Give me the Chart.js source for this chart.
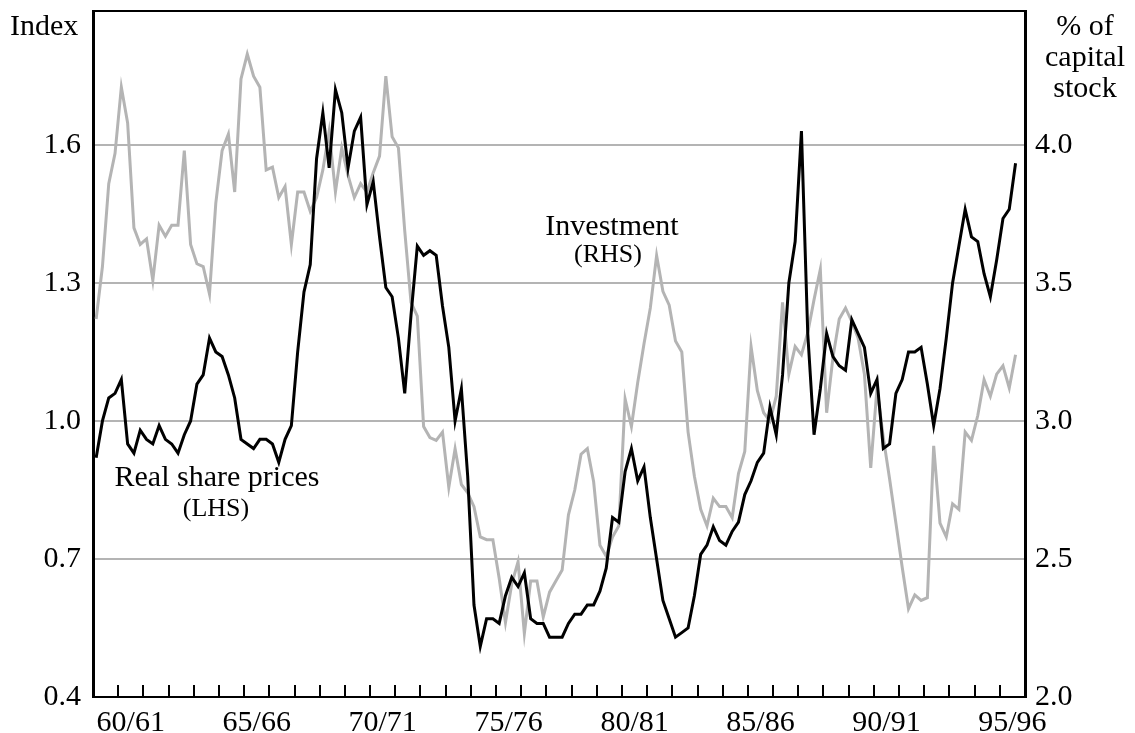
<!DOCTYPE html>
<html>
<head>
<meta charset="utf-8">
<script src="https://cdn.jsdelivr.net/npm/chart.js@4.4.0/dist/chart.umd.min.js"></script>
<style>
  html, body { margin: 0; padding: 0; background: #fff; }
  #wrap { width: 1135px; height: 733px; }
</style>
</head>
<body>
<div id="wrap"><canvas id="chart" width="1135" height="733"></canvas></div>
<script>
// quarterly series, Sep qtr 1959 .. Mar qtr 1996
const firstQuarter = 1959.625;

// real share prices, index (LHS)
const sharePrices = [
  0.92, 1.00, 1.05, 1.06, 1.09, 0.95, 0.93, 0.98, 0.96, 0.95,
  0.99, 0.96, 0.95, 0.93, 0.97, 1.00, 1.08, 1.10, 1.18, 1.15,
  1.14, 1.10, 1.05, 0.96, 0.95, 0.94, 0.96, 0.96, 0.95, 0.91,
  0.96, 0.99, 1.15, 1.28, 1.34, 1.57, 1.67, 1.55, 1.72, 1.67,
  1.55, 1.63, 1.66, 1.47, 1.52, 1.40, 1.29, 1.27, 1.18, 1.06,
  1.23, 1.38, 1.36, 1.37, 1.36, 1.25, 1.16, 1.00, 1.07, 0.88,
  0.60, 0.51, 0.57, 0.57, 0.56, 0.62, 0.66, 0.64, 0.67, 0.57,
  0.56, 0.56, 0.53, 0.53, 0.53, 0.56, 0.58, 0.58, 0.60, 0.60,
  0.63, 0.68, 0.79, 0.78, 0.89, 0.94, 0.87, 0.90, 0.79, 0.70,
  0.61, 0.57, 0.53, 0.54, 0.55, 0.62, 0.71, 0.73, 0.77, 0.74,
  0.73, 0.76, 0.78, 0.84, 0.87, 0.91, 0.93, 1.03, 0.97, 1.10,
  1.30, 1.39, 1.63, 1.19, 0.97, 1.07, 1.19, 1.14, 1.12, 1.11,
  1.22, 1.19, 1.16, 1.06, 1.09, 0.94, 0.95, 1.06, 1.09, 1.15,
  1.15, 1.16, 1.08, 0.99, 1.07, 1.18, 1.30, 1.38, 1.46, 1.40,
  1.39, 1.32, 1.27, 1.35, 1.44, 1.46, 1.56
];

// investment, % of capital stock (RHS)
const investment = [
  3.37, 3.56, 3.86, 3.97, 4.21, 4.08, 3.70, 3.64, 3.66, 3.51,
  3.71, 3.67, 3.71, 3.71, 3.98, 3.64, 3.57, 3.56, 3.46, 3.79,
  3.98, 4.04, 3.83, 4.24, 4.33, 4.25, 4.21, 3.91, 3.92, 3.81,
  3.85, 3.64, 3.83, 3.83, 3.76, 3.81, 3.91, 4.05, 3.83, 3.99,
  3.89, 3.81, 3.86, 3.83, 3.90, 3.96, 4.25, 4.03, 3.99, 3.69,
  3.43, 3.38, 2.98, 2.94, 2.93, 2.96, 2.76, 2.90, 2.77, 2.74,
  2.69, 2.58, 2.57, 2.57, 2.43, 2.27, 2.41, 2.49, 2.23, 2.42,
  2.42, 2.29, 2.38, 2.42, 2.46, 2.66, 2.75, 2.88, 2.90, 2.78,
  2.55, 2.51, 2.58, 2.62, 3.08, 2.98, 3.14, 3.28, 3.41, 3.60,
  3.47, 3.42, 3.29, 3.25, 2.96, 2.80, 2.68, 2.62, 2.72, 2.69,
  2.69, 2.65, 2.81, 2.89, 3.27, 3.11, 3.03, 3.00, 3.09, 3.43,
  3.17, 3.27, 3.24, 3.32, 3.44, 3.55, 3.03, 3.23, 3.37, 3.41,
  3.36, 3.30, 3.17, 2.83, 3.12, 2.94, 2.79, 2.63, 2.47, 2.32,
  2.37, 2.35, 2.36, 2.91, 2.63, 2.58, 2.70, 2.68, 2.96, 2.93,
  3.02, 3.15, 3.09, 3.17, 3.20, 3.12, 3.24
];

const xTickLabels = ['60/61', '65/66', '70/71', '75/76', '80/81', '85/86', '90/91', '95/96'];
const leftTicks = [0.4, 0.7, 1.0, 1.3, 1.6];
const rightTicks = [2.0, 2.5, 3.0, 3.5, 4.0];

const GREY = '#b4b4b4';
const FONT = "'Liberation Serif', 'Times New Roman', serif";

const quarters = sharePrices.map((_, i) => firstQuarter + i * 0.25);
// financial years run July-June, label sits in the middle of the year
const fyMid = label => 1900 + parseInt(label.slice(0, 2), 10) + 1;
const yearStarts = [];
for (let y = 1960.5; y < 1996.5; y++) yearStarts.push(y);

const decorations = {
  id: 'decorations',
  afterDraw(chart) {
    const { ctx, chartArea: a, scales: { x } } = chart;
    ctx.save();
    ctx.strokeStyle = '#000';
    ctx.lineWidth = 2;
    ctx.beginPath();
    ctx.moveTo(a.left, a.top);
    ctx.lineTo(a.right, a.top);
    // small year ticks pointing into the plot
    yearStarts.forEach(yr => {
      const px = Math.round(x.getPixelForValue(yr));
      ctx.moveTo(px, a.bottom);
      ctx.lineTo(px, a.bottom - 12);
    });
    ctx.stroke();

    ctx.fillStyle = '#000';
    ctx.font = `30px ${FONT}`;
    ctx.textAlign = 'left';
    ctx.fillText('Index', 10, 35);
    ctx.textAlign = 'center';
    ['% of', 'capital', 'stock'].forEach((t, i) => ctx.fillText(t, 1085, 35 + i * 31));
    ctx.fillText('Investment', 612, 235);
    ctx.fillText('Real share prices', 217, 486);
    ctx.font = `26px ${FONT}`;
    ctx.fillText('(RHS)', 608, 262);
    ctx.fillText('(LHS)', 216, 516);
    ctx.restore();
  }
};

const tickFont = { family: FONT, size: 30 };

new Chart(document.getElementById('chart'), {
  type: 'line',
  data: {
    datasets: [
      {
        label: 'Real share prices (LHS)',
        data: sharePrices.map((v, i) => ({ x: quarters[i], y: v })),
        yAxisID: 'y',
        borderColor: '#000',
        borderWidth: 3,
        pointRadius: 0,
        tension: 0,
        order: 0
      },
      {
        label: 'Investment (RHS)',
        data: investment.map((v, i) => ({ x: quarters[i], y: v })),
        yAxisID: 'y2',
        borderColor: GREY,
        borderWidth: 3,
        pointRadius: 0,
        tension: 0,
        order: 1
      }
    ]
  },
  options: {
    responsive: false,
    animation: false,
    devicePixelRatio: 1,
    layout: { padding: { top: 11, left: 0, right: 0, bottom: 0 } },
    plugins: { legend: { display: false }, tooltip: { enabled: false } },
    scales: {
      x: {
        type: 'linear',
        min: 1959.5,
        max: 1996.5,
        grid: { display: false },
        border: { display: true, color: '#000', width: 2 },
        afterBuildTicks: s => { s.ticks = xTickLabels.map(l => ({ value: fyMid(l) })); },
        ticks: {
          autoSkip: false,
          maxRotation: 0,
          padding: 0,
          color: '#000',
          font: tickFont,
          callback: (v, i) => xTickLabels[i]
        },
        afterFit: s => { s.height = 36; s.paddingLeft = 0; s.paddingRight = 0; }
      },
      y: {
        position: 'left',
        min: 0.4,
        max: 1.891,
        afterBuildTicks: s => { s.ticks = leftTicks.map(v => ({ value: v })); },
        grid: {
          drawTicks: false,
          lineWidth: 2,
          color: c => (c.tick && c.tick.value > 0.45 ? GREY : 'rgba(0,0,0,0)')
        },
        border: { color: '#000', width: 3 },
        ticks: { padding: 12, color: '#000', font: tickFont, callback: v => v.toFixed(1) },
        afterFit: s => { s.width = 93; s.paddingTop = 0; s.paddingBottom = 0; }
      },
      y2: {
        position: 'right',
        min: 2.0,
        max: 4.486,
        afterBuildTicks: s => { s.ticks = rightTicks.map(v => ({ value: v })); },
        grid: { drawOnChartArea: false, drawTicks: false },
        border: { color: '#000', width: 3 },
        ticks: { padding: 10, color: '#000', font: tickFont, callback: v => v.toFixed(1) },
        afterFit: s => { s.width = 110; s.paddingTop = 0; s.paddingBottom = 0; }
      }
    }
  },
  plugins: [decorations]
});
</script>
</body>
</html>
